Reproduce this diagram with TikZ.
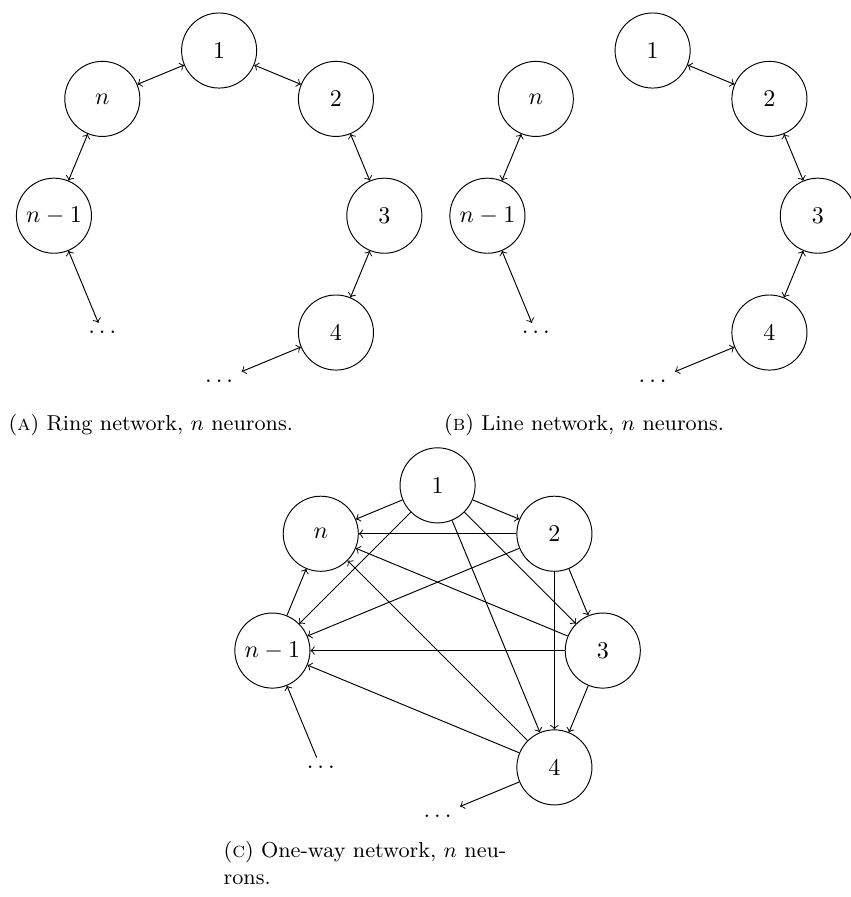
\documentclass[tikz,border=0pt]{standalone}
\usepackage{amsmath,amssymb}
\tikzset{
	neuron/.style={circle,draw,minimum size=1.1cm,inner sep=0pt},
	subcap/.style={anchor=base west,font=\small,align=left,inner sep=0pt},
}
\begin{document}
\begin{tikzpicture}
	\useasboundingbox (0,0) rectangle (12.46,-13.14);
	% (a) ring
	\begin{scope}[shift={(3.21,-3.16)}]
	\node[neuron] (a1) at (90:2.42) {$1$};
	\node[neuron] (a2) at (45:2.42) {$2$};
	\node[neuron] (a3) at (0:2.42) {$3$};
	\node[neuron] (a4) at (-45:2.42) {$4$};
	\node[neuron] (an) at (135:2.42) {$n$};
	\node[neuron] (am) at (180:2.42) {$n-1$};
	\node (adl) at (-135:2.42) {$\ldots$};
	\node (adb) at (-90:2.42) {$\ldots$};
	\draw[<->] (an)--(a1);
	\draw[<->] (a1)--(a2);
	\draw[<->] (a2)--(a3);
	\draw[<->] (a3)--(a4);
	\draw[<->] (a4)--(adb);
	\draw[<->] (an)--(am);
	\draw[<->] (am)--(adl);
	\end{scope}
	% (b) line
	\begin{scope}[shift={(9.56,-3.16)}]
	\node[neuron] (b1) at (90:2.42) {$1$};
	\node[neuron] (b2) at (45:2.42) {$2$};
	\node[neuron] (b3) at (0:2.42) {$3$};
	\node[neuron] (b4) at (-45:2.42) {$4$};
	\node[neuron] (bn) at (135:2.42) {$n$};
	\node[neuron] (bm) at (180:2.42) {$n-1$};
	\node (bdl) at (-135:2.42) {$\ldots$};
	\node (bdb) at (-90:2.42) {$\ldots$};
	\draw[<->] (b1)--(b2);
	\draw[<->] (b2)--(b3);
	\draw[<->] (b3)--(b4);
	\draw[<->] (b4)--(bdb);
	\draw[<->] (bn)--(bm);
	\draw[<->] (bm)--(bdl);
	\end{scope}
	% (c) one-way
	\begin{scope}[shift={(6.41,-9.53)},every node/.append style={minimum size=1.33cm}]
	\node[neuron] (c1) at (90:2.42) {$1$};
	\node[neuron] (c2) at (45:2.42) {$2$};
	\node[neuron] (c3) at (0:2.42) {$3$};
	\node[neuron] (c4) at (-45:2.42) {$4$};
	\node[neuron] (cn) at (135:2.42) {$n$};
	\node[neuron] (cm) at (180:2.42) {$n-1$};
	\node[minimum size=0pt] (cdl) at (-135:2.42) {$\ldots$};
	\node[minimum size=0pt] (cdb) at (-90:2.42) {$\ldots$};
	\foreach \a/\b in {c1/c2,c1/c3,c1/c4,c1/cm,c1/cn,c2/c3,c2/c4,c2/cm,c2/cn,c3/c4,c3/cm,c3/cn,c4/cm,c4/cn,cm/cn,cdl/cm,c4/cdb}
		\draw[->] (\a)--(\b);
	\end{scope}
	% captions
	\node[subcap] (capa) at (0.12,-6.31) {(\textsc{a}) Ring network, $n$ neurons.};
	\node[subcap] (capb) at (6.50,-6.31) {(\textsc{b}) Line network, $n$ neurons.};
	\node[subcap] (capc) at (3.27,-12.95) {(\textsc{c}) One-way network, $n$ neu-\\rons.};
\end{tikzpicture}
\end{document}
